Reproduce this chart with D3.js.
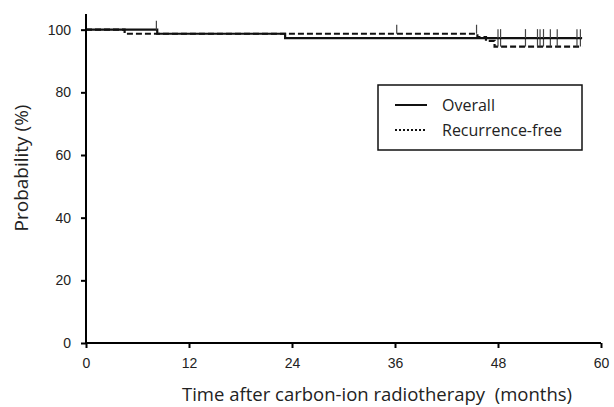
<!DOCTYPE html>
<html>
<head>
<meta charset="utf-8">
<script src="https://cdn.jsdelivr.net/npm/d3@7"></script>
<style>
  body { margin: 0; background: #fff; }
  svg { display: block; font-family: "Open Sans", sans-serif; }
  .axis path, .axis line { stroke: #000; stroke-width: 2; }
  .axis text { font-size: 14px; fill: #222; }
</style>
</head>
<body>
<svg id="km" width="614" height="407"></svg>
<script>
// Kaplan-Meier curves

// overall survival: step times (months) and probabilities (%)
var overallTimes = [0, 8.3, 23.2],
    overallProb = [100, 98.7, 97.3],
    overallCensor = [8.2, 48.0, 48.3, 51.2, 52.6, 52.9, 53.3, 54.1, 54.9, 57.2, 57.6];

// recurrence-free survival
var rfTimes = [0, 4.5, 45.6, 46.6, 47.6],
    rfProb = [100, 98.7, 97.6, 96.4, 94.6],
    rfCensor = [36.2, 45.5, 48.0, 48.3, 51.2, 52.6, 52.9, 53.3, 54.1, 54.9, 57.2, 57.6];

var followUpEnd = 57.8;

var xTicks = [0, 12, 24, 36, 48, 60],
    yTicks = [0, 20, 40, 60, 80, 100];

var legendLabels = ["Overall", "Recurrence-free"];

var svg = d3.select("#km"),
    margin = {top: 14, left: 86, right: 13, bottom: 64},
    width = +svg.attr("width") - margin.left - margin.right,
    height = +svg.attr("height") - margin.top - margin.bottom;

var x = d3.scaleLinear().domain([0, 60]).range([0, width]),
    y = d3.scaleLinear().domain([0, 105]).range([height, 0]);

var g = svg.append("g")
    .attr("transform", "translate(" + margin.left + "," + margin.top + ")");

function steps(times, probs) {
    var pts = times.map(function(t, i) { return {t: t, p: probs[i]}; });
    pts.push({t: followUpEnd, p: probs[probs.length - 1]});
    return pts;
}

function probAt(times, probs, t) {
    var p = probs[0];
    times.forEach(function(tt, i) { if (tt <= t) p = probs[i]; });
    return p;
}

var line = d3.line()
    .curve(d3.curveStepAfter)
    .x(function(d) { return x(d.t); })
    .y(function(d) { return y(d.p); });

// curves
var series = [
    {name: "overall", times: overallTimes, probs: overallProb, censor: overallCensor, dash: null},
    {name: "rf", times: rfTimes, probs: rfProb, censor: rfCensor, dash: "6,3"}
];

series.slice().reverse().forEach(function(s) {
    g.append("path")
        .datum(steps(s.times, s.probs))
        .attr("fill", "none")
        .attr("stroke", "#111")
        .attr("stroke-width", 2.2)
        .attr("stroke-dasharray", s.dash)
        .attr("d", line);

    g.selectAll(".censor-" + s.name)
        .data(s.censor)
        .enter().append("line")
        .attr("class", "censor-" + s.name)
        .attr("x1", function(d) { return x(d); })
        .attr("x2", function(d) { return x(d); })
        .attr("y1", function(d) { return y(probAt(s.times, s.probs, d)); })
        .attr("y2", function(d) { return y(probAt(s.times, s.probs, d)) - 9; })
        .attr("stroke", "#444")
        .attr("stroke-width", 1.2);
});

// axes
g.append("g")
    .attr("class", "axis axis--x")
    .attr("transform", "translate(0," + height + ")")
    .call(d3.axisBottom(x).tickValues(xTicks).tickSize(5).tickPadding(10).tickSizeOuter(0))
    .select(".domain").attr("d", "M0,0H" + width);

g.append("g")
    .attr("class", "axis axis--y")
    .call(d3.axisLeft(y).tickValues(yTicks).tickSize(5).tickPadding(10).tickSizeOuter(0))
    .select(".domain").attr("d", "M0," + height + "V0");

// axis titles
svg.append("text")
    .attr("x", 377)
    .attr("y", 401)
    .attr("text-anchor", "middle")
    .style("font-size", "18.5px")
    .style("white-space", "pre")
    .style("fill", "#222")
    .text("Time after carbon-ion radiotherapy  (months)");

svg.append("text")
    .attr("transform", "translate(28,168) rotate(-90)")
    .attr("text-anchor", "middle")
    .style("font-size", "19px")
    .style("fill", "#222")
    .text("Probability (%)");

// legend
var legend = svg.append("g").attr("transform", "translate(378,85)");

legend.append("rect")
    .attr("width", 204)
    .attr("height", 65)
    .attr("fill", "#fff")
    .attr("stroke", "#111")
    .attr("stroke-width", 1.5);

legendLabels.forEach(function(label, i) {
    legend.append("line")
        .attr("x1", 17).attr("x2", 49)
        .attr("y1", 20 + i * 25).attr("y2", 20 + i * 25)
        .attr("stroke", "#111")
        .attr("stroke-width", 2)
        .attr("stroke-dasharray", i ? "2,2" : null);
    legend.append("text")
        .attr("x", 64)
        .attr("y", 20 + i * 25)
        .attr("dy", "0.35em")
        .style("font-size", "16px")
        .style("fill", "#222")
        .text(label);
});
</script>
</body>
</html>
